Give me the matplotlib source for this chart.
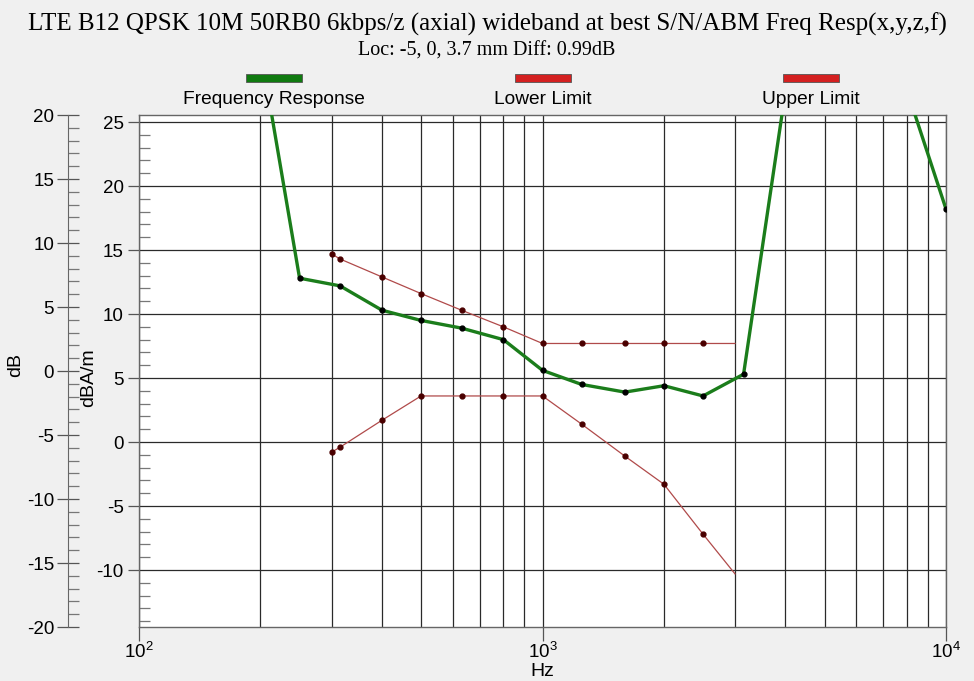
import numpy as np
import matplotlib.pyplot as plt
from matplotlib.patches import Rectangle
from matplotlib.ticker import MultipleLocator, LogLocator, NullFormatter

plt.rcParams['font.family'] = ['Liberation Sans', 'DejaVu Sans']
plt.rcParams['mathtext.default'] = 'regular'
plt.rcParams['axes.unicode_minus'] = False

# frequency response (dBA/m); points above the top of the chart are estimated from the line slope
resp_freq = [200, 250, 315, 400, 500, 630, 800, 1000, 1250, 1600, 2000, 2500, 3150,
             4000, 5000, 6300, 8000, 10000]
resp_val = [30.7, 12.8, 12.2, 10.3, 9.5, 8.9, 8.0, 5.6, 4.5, 3.9, 4.4, 3.6, 5.3,
            27.4, 30.5, 30.5, 27.5, 18.2]

lim_freq = [300, 315, 400, 500, 630, 800, 1000, 1250, 1600, 2000, 2500, 3000]
upper_val = [14.7, 14.3, 12.9, 11.6, 10.3, 9.0, 7.7, 7.7, 7.7, 7.7, 7.7, 7.7]
lower_val = [-0.8, -0.4, 1.7, 3.6, 3.6, 3.6, 3.6, 1.4, -1.1, -3.3, -7.2, -10.3]

title = "LTE B12 QPSK 10M 50RB0 6kbps/z (axial) wideband at best S/N/ABM Freq Resp(x,y,z,f)"
subtitle = "Loc: -5, 0, 3.7 mm Diff: 0.99dB"
legend_labels = ["Frequency Response", "Lower Limit", "Upper Limit"]

W, H = 974, 681
fig = plt.figure(figsize=(W / 100, H / 100), dpi=100, facecolor='#f0f0f0')

left, right, top, bottom = 139, 946, 115, 627
ax = fig.add_axes([left / W, 1 - bottom / H, (right - left) / W, (bottom - top) / H])
ax.set_facecolor('white')
ax.set_xscale('log')
ax.set_xlim(100, 10000)
ax.set_ylim(-14.45, 25.55)

grid_c = '#2a2a2a'
ax.xaxis.set_major_locator(LogLocator(base=10))
ax.xaxis.set_minor_locator(LogLocator(base=10, subs=np.arange(2, 10)))
ax.xaxis.set_minor_formatter(NullFormatter())
ax.grid(True, which='both', axis='x', color=grid_c, lw=0.9)
ax.yaxis.set_major_locator(MultipleLocator(5))
ax.yaxis.set_minor_locator(MultipleLocator(1))
ax.grid(True, which='major', axis='y', color=grid_c, lw=0.9)
ax.set_axisbelow(True)

ax.tick_params(axis='x', which='major', direction='out', length=10, width=0.9,
               color='#555555', labelsize=13.5, pad=1)
ax.tick_params(axis='x', which='minor', length=0)
ax.tick_params(axis='y', which='major', direction='out', length=8, width=0.9,
               color='#555555', labelsize=13.5, pad=3)
ax.tick_params(axis='y', which='minor', direction='in', length=8, width=0.9, color='#777777')
for s in ax.spines.values():
    s.set_color('#666666')
    s.set_linewidth(1.0)

ax.plot(lim_freq, upper_val, color='#b04a4a', lw=0.9, marker='o', ms=3.5,
        mfc='#4a0000', mec='#4a0000', markevery=list(range(len(lim_freq) - 1)), zorder=3)
ax.plot(lim_freq, lower_val, color='#b04a4a', lw=0.9, marker='o', ms=3.5,
        mfc='#4a0000', mec='#4a0000', markevery=list(range(len(lim_freq) - 1)), zorder=3)
ax.plot(resp_freq, resp_val, color='#1b7d1b', lw=2.4, marker='o', ms=3.5,
        mfc='black', mec='black', zorder=4, clip_on=True)

# outer dB axis
ax2 = fig.add_axes([68 / W, 1 - bottom / H, 0.0001, (bottom - top) / H])
ax2.set_ylim(-20, 20)
ax2.set_xticks([])
ax2.patch.set_visible(False)
for k in ['top', 'right', 'bottom']:
    ax2.spines[k].set_visible(False)
ax2.spines['left'].set_color('#666666')
ax2.yaxis.set_major_locator(MultipleLocator(5))
ax2.yaxis.set_minor_locator(MultipleLocator(1))
ax2.tick_params(axis='y', which='major', direction='inout', length=16, width=0.9,
                color='#555555', labelsize=13.5, pad=2)
ax2.tick_params(axis='y', which='minor', direction='in', length=8, width=0.9, color='#777777')

# axis labels
fig.text(16 / W, 1 - 365 / H, "dB", rotation=90, ha='center', va='center', fontsize=14)
fig.text(89 / W, 1 - 378 / H, "dBA/m", rotation=90, ha='center', va='center', fontsize=14)
fig.text(542 / W, 1 - 672 / H, "Hz", ha='center', va='center', fontsize=14)

# titles
fig.text(0.5, 1 - 24 / H, title, ha='center', va='center', fontsize=18,
         family='Liberation Serif')
fig.text(0.5, 1 - 51 / H, subtitle, ha='center', va='center', fontsize=14.5,
         family='Liberation Serif')

# legend
legend_colors = ['#107a10', '#d42020', '#d42020']
legend_x = [274, 543, 811]
for lab, col, cx in zip(legend_labels, legend_colors, legend_x):
    fig.add_artist(Rectangle(((cx - 28) / W, 1 - 82 / H), 56 / W, 8 / H,
                             transform=fig.transFigure, facecolor=col,
                             edgecolor='#555555', lw=0.6))
    fig.text(cx / W, 1 - 100 / H, lab, ha='center', va='center', fontsize=13.8)

fig.savefig('out.png', dpi=100, facecolor=fig.get_facecolor())
